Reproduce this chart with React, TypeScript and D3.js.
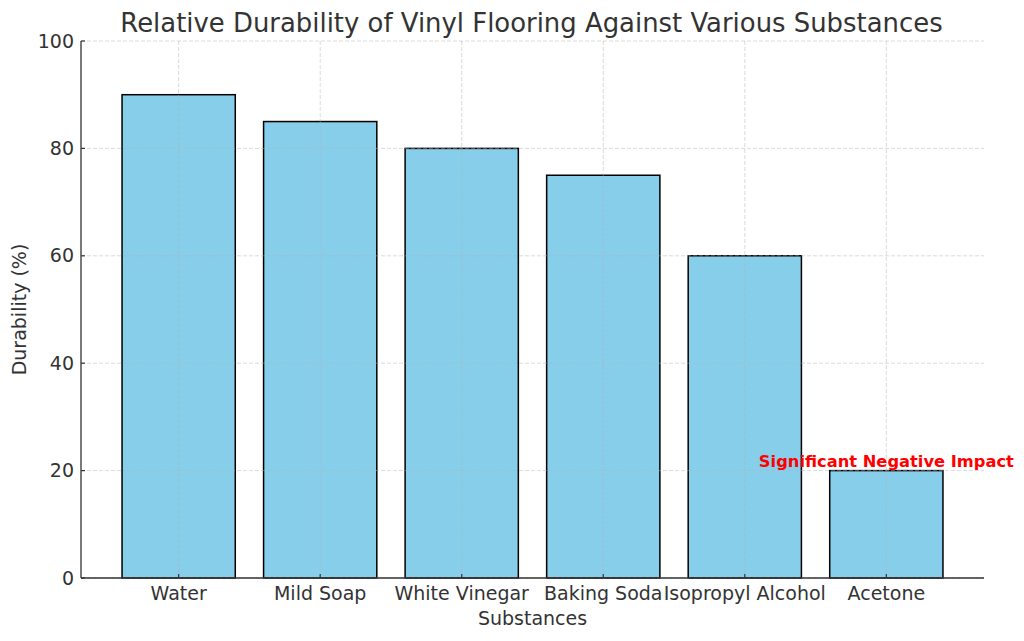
import React from "react";
import * as d3 from "d3";

const categories = ["Water", "Mild Soap", "White Vinegar", "Baking Soda", "Isopropyl Alcohol", "Acetone"];
const durability = [90, 85, 80, 75, 60, 20];
const yTicks = [0, 20, 40, 60, 80, 100];
const annotation = { index: 5, value: 20, text: "Significant Negative Impact" };

const W = 1024, H = 641;
const M = { left: 81, right: 984, top: 41, bottom: 578 };
const FONT = "DejaVu Sans, sans-serif";
const TXT = "#333333";

export default function App() {
  const x = d3.scaleLinear().domain([-0.69, 5.69]).range([M.left, M.right]);
  const y = d3.scaleLinear().domain([0, 100]).range([M.bottom, M.top]);
  const bw = x(0.8) - x(0);
  return (
    <svg width={W} height={H} style={{ position: "absolute", left: 0, top: 0, background: "#fff" }}>
      <text x={(M.left + M.right) / 2 - 1} y={32} textAnchor="middle" fontFamily={FONT} fontSize={25.9} fill={TXT}>
        Relative Durability of Vinyl Flooring Against Various Substances
      </text>
      {categories.map((c, i) => (
        <rect key={c} x={x(i) - bw / 2} y={y(durability[i])} width={bw} height={y(0) - y(durability[i])}
          fill="#87CEEB" stroke="#000" strokeWidth={1.5} />
      ))}
      {/* grid */}
      {yTicks.map((t) => (
        <line key={"gy" + t} x1={M.left} x2={M.right} y1={y(t)} y2={y(t)} stroke="#b0b0b0" strokeOpacity={0.6} strokeDasharray="4,2" strokeWidth={0.8} />
      ))}
      {categories.map((c, i) => (
        <line key={"gx" + c} x1={x(i)} x2={x(i)} y1={M.top} y2={M.bottom} stroke="#b0b0b0" strokeOpacity={0.6} strokeDasharray="4,2" strokeWidth={0.8} />
      ))}
      {/* spines */}
      <line x1={M.left} x2={M.left} y1={M.top} y2={M.bottom} stroke={TXT} strokeWidth={1.3} />
      <line x1={M.left} x2={M.right} y1={M.bottom} y2={M.bottom} stroke={TXT} strokeWidth={1.3} />
      {yTicks.map((t) => (
        <g key={"yt" + t}>
          <line x1={M.left} x2={M.left + 4} y1={y(t)} y2={y(t)} stroke={TXT} strokeWidth={1.2} />
          <text x={M.left - 7} y={y(t)} dy="0.35em" textAnchor="end" fontFamily={FONT} fontSize={19} fill={TXT}>{t}</text>
        </g>
      ))}
      {categories.map((c, i) => (
        <g key={"xt" + c}>
          <line x1={x(i)} x2={x(i)} y1={M.bottom} y2={M.bottom - 4} stroke={TXT} strokeWidth={1.2} />
          <text x={x(i)} y={M.bottom + 22} textAnchor="middle" fontFamily={FONT} fontSize={19} fill={TXT}>{c}</text>
        </g>
      ))}
      <text x={(M.left + M.right) / 2} y={625} textAnchor="middle" fontFamily={FONT} fontSize={19} fill={TXT}>Substances</text>
      <text transform={`translate(26,${(M.top + M.bottom) / 2}) rotate(-90)`} textAnchor="middle" fontFamily={FONT} fontSize={19} fill={TXT}>Durability (%)</text>
      <text x={x(annotation.index)} y={y(annotation.value) - 4} textAnchor="middle" fontFamily={FONT} fontSize={16.3} fontWeight="bold" fill="red">{annotation.text}</text>
    </svg>
  );
}
